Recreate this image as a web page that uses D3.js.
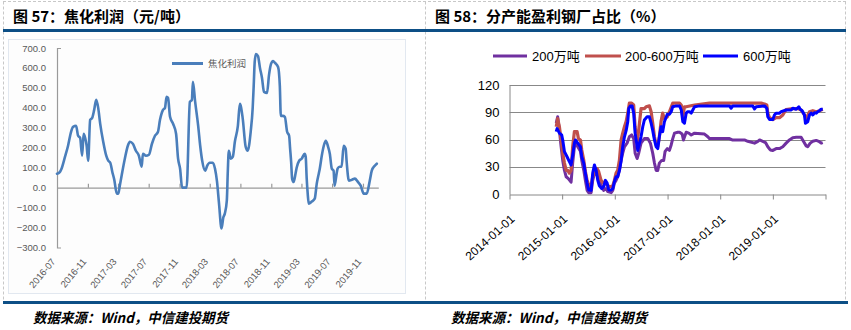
<!DOCTYPE html>
<html>
<head>
<meta charset="utf-8">
<script src="https://cdn.jsdelivr.net/npm/d3@7/dist/d3.min.js"></script>
<style>
  html, body { margin: 0; padding: 0; background: #fff; }
  svg { display: block; }
</style>
</head>
<body>
<svg id="chart" width="851" height="330"></svg>
<script>
// ---------------- DATA ----------------
const titleLeft = "图 57：焦化利润（元/吨）";
const titleRight = "图 58：分产能盈利钢厂占比（%）";
const sourceText = "数据来源：Wind，中信建投期货";

// Left chart: coking profit (yuan/ton)
const cokeSeriesName = "焦化利润";
const leftYTicks = [-300, -200, -100, 0, 100, 200, 300, 400, 500, 600, 700];
const leftXTickLabels = ["2016-07", "2016-11", "2017-03", "2017-07", "2017-11", "2018-03",
  "2018-07", "2018-11", "2019-03", "2019-07", "2019-11"];
const cokeProfit = [
  ["2016-07-01",70],["2016-07-12",78],["2016-07-19",95],["2016-08-02",155],["2016-08-14",210],
  ["2016-08-26",280],["2016-09-03",305],["2016-09-15",310],["2016-09-23",260],["2016-10-01",250],
  ["2016-10-09",160],["2016-10-15",270],["2016-10-21",250],["2016-10-27",210],["2016-11-02",135],
  ["2016-11-10",340],["2016-11-18",350],["2016-11-26",390],["2016-12-04",440],["2016-12-12",400],
  ["2016-12-20",320],["2017-01-01",230],["2017-01-13",160],["2017-01-21",135],["2017-01-29",125],
  ["2017-02-06",80],["2017-02-14",40],["2017-02-24",-30],["2017-03-02",-30],["2017-03-08",10],
  ["2017-03-28",145],["2017-04-09",210],["2017-04-17",230],["2017-04-29",220],["2017-05-11",185],
  ["2017-05-23",160],["2017-06-03",105],["2017-06-08",170],["2017-06-20",160],["2017-07-02",165],
  ["2017-07-14",220],["2017-07-26",260],["2017-08-07",280],["2017-08-15",340],["2017-08-27",390],
  ["2017-09-04",400],["2017-09-10",455],["2017-09-16",450],["2017-09-24",355],["2017-10-06",320],
  ["2017-10-18",270],["2017-10-26",145],["2017-11-03",95],["2017-11-11",0],["2017-11-19",0],
  ["2017-11-29",0],["2017-12-12",430],["2017-12-20",440],["2017-12-24",530],["2018-01-02",430],
  ["2018-01-14",310],["2018-01-22",210],["2018-01-30",135],["2018-02-11",85],["2018-02-19",110],
  ["2018-03-01",125],["2018-03-13",125],["2018-03-22",95],["2018-03-30",30],["2018-04-07",-80],
  ["2018-04-17",-205],["2018-04-24",-150],["2018-04-30",-130],["2018-05-08",-65],["2018-05-12",85],
  ["2018-05-16",185],["2018-05-24",145],["2018-06-01",155],["2018-06-09",230],["2018-06-21",310],
  ["2018-06-29",420],["2018-07-10",350],["2018-07-22",205],["2018-07-30",185],["2018-08-11",280],
  ["2018-08-19",400],["2018-08-23",510],["2018-08-27",630],["2018-09-01",670],["2018-09-09",660],
  ["2018-09-17",600],["2018-09-25",550],["2018-10-03",480],["2018-10-15",475],["2018-10-23",565],
  ["2018-10-31",620],["2018-11-08",635],["2018-11-16",625],["2018-11-28",605],["2018-12-05",510],
  ["2018-12-09",360],["2018-12-17",360],["2018-12-25",355],["2019-01-03",280],["2019-01-11",260],
  ["2019-01-15",195],["2019-01-19",130],["2019-01-23",45],["2019-01-29",28],["2019-02-04",60],
  ["2019-02-10",100],["2019-02-20",135],["2019-03-02",145],["2019-03-14",170],["2019-03-18",155],
  ["2019-03-22",45],["2019-03-26",-30],["2019-03-30",-80],["2019-04-11",-70],["2019-04-23",-55],
  ["2019-05-01",20],["2019-05-09",70],["2019-05-13",95],["2019-05-21",160],["2019-05-29",210],
  ["2019-06-06",235],["2019-06-14",210],["2019-06-22",170],["2019-06-30",95],["2019-07-07",85],
  ["2019-07-11",10],["2019-07-19",70],["2019-07-23",95],["2019-07-31",105],["2019-08-08",105],
  ["2019-08-16",210],["2019-08-24",195],["2019-08-28",130],["2019-09-06",35],["2019-09-18",40],
  ["2019-09-30",45],["2019-10-11",30],["2019-10-23",10],["2019-11-04",-30],["2019-11-16",-30],
  ["2019-11-28",35],["2019-12-06",85],["2019-12-18",110],["2019-12-26",120]
];

// Right chart: share of profitable steel mills by capacity (%)
const seriesNames = ["200万吨", "200-600万吨", "600万吨"];
const rightYTicks = [0, 30, 60, 90, 120];
const rightXTickLabels = ["2014-01-01", "2015-01-01", "2016-01-01", "2017-01-01", "2018-01-01", "2019-01-01"];
const cap200 = [
  ["2014-11-21",78],["2014-12-01",85],["2014-12-13",70],["2014-12-25",52],["2015-01-05",37],
  ["2015-01-17",26],["2015-01-29",19],["2015-02-13",17],["2015-03-04",13],["2015-03-15",34],
  ["2015-03-27",52],["2015-04-08",56],["2015-04-19",52],["2015-05-08",47],["2015-05-17",37],
  ["2015-05-31",26],["2015-06-11",15],["2015-06-23",4],["2015-07-04",1.5],["2015-07-21",1.5],
  ["2015-08-01",15],["2015-08-13",23],["2015-08-31",21],["2015-09-11",15],["2015-09-28",10],
  ["2015-10-16",4],["2015-11-02",6],["2015-11-13",2.6],["2015-12-07",1.5],["2015-12-18",4],
  ["2015-12-29",12],["2016-01-10",15],["2016-01-21",19],["2016-02-02",26],["2016-02-14",37],
  ["2016-02-25",45],["2016-03-08",52],["2016-03-26",56],["2016-04-11",63],["2016-04-27",65],
  ["2016-05-11",61],["2016-05-21",45],["2016-06-04",39],["2016-06-15",45],["2016-07-01",56],
  ["2016-07-24",61],["2016-08-17",61],["2016-09-04",56],["2016-09-20",45],["2016-10-02",34],
  ["2016-10-14",26],["2016-10-25",26],["2016-11-05",34],["2016-11-21",37],["2016-12-05",37],
  ["2016-12-15",47],["2016-12-30",50],["2017-01-14",48],["2017-01-26",54],["2017-02-06",61],
  ["2017-02-18",67],["2017-03-13",68],["2017-03-25",68],["2017-04-12",66],["2017-04-21",59.5],
  ["2017-05-10",68],["2017-05-28",67],["2017-06-14",65],["2017-07-07",67],["2017-09-14",66],
  ["2017-10-07",63],["2017-10-19",61],["2018-03-06",61],["2018-03-25",59.5],["2018-06-18",59.5],
  ["2018-07-11",58],["2018-08-27",56],["2018-09-19",58],["2018-10-01",59.5],["2018-10-23",58],
  ["2018-11-11",56.6],["2018-11-27",52],["2018-12-14",48.5],["2019-01-01",48],["2019-01-24",50],
  ["2019-02-16",50],["2019-03-11",52],["2019-04-03",56],["2019-04-26",59.5],["2019-05-19",62],
  ["2019-06-12",62.4],["2019-07-16",62.4],["2019-08-01",58],["2019-08-20",53],["2019-08-31",52],
  ["2019-09-17",56],["2019-10-05",58],["2019-10-29",59],["2019-11-15",58],["2019-12-02",56],
  ["2019-12-13",56.6]
];
const cap200to600 = [
  ["2014-11-21",74],["2014-12-01",83],["2014-12-13",74],["2014-12-25",59.5],["2015-01-05",45],
  ["2015-01-17",34],["2015-01-29",26],["2015-02-09",26],["2015-02-20",23],["2015-03-04",26],
  ["2015-03-15",52],["2015-03-27",68.6],["2015-04-15",68.6],["2015-04-24",61],["2015-05-08",59.5],
  ["2015-05-17",48.5],["2015-05-31",37],["2015-06-11",25],["2015-06-23",15],["2015-07-09",8],
  ["2015-07-21",9],["2015-08-01",19],["2015-08-13",26],["2015-08-31",28],["2015-09-11",25],
  ["2015-09-28",15],["2015-10-16",12],["2015-11-02",11],["2015-11-13",9],["2015-12-02",8],
  ["2015-12-18",9],["2015-12-29",15],["2016-01-10",23],["2016-01-21",26],["2016-02-02",37],
  ["2016-02-14",59.5],["2016-02-25",67],["2016-03-08",74],["2016-03-20",80],["2016-03-31",89],
  ["2016-04-11",100],["2016-04-27",100],["2016-05-11",98],["2016-05-21",74],["2016-06-04",56],
  ["2016-06-15",70.5],["2016-07-01",94],["2016-07-24",94],["2016-08-05",96],["2016-08-28",97],
  ["2016-09-09",90.6],["2016-09-20",78],["2016-10-02",63],["2016-10-14",54],["2016-10-25",52],
  ["2016-11-05",63],["2016-11-17",80],["2016-11-28",89],["2016-12-10",83],["2016-12-30",85],
  ["2017-01-14",90.6],["2017-02-06",100],["2017-03-02",100],["2017-03-25",100],["2017-04-06",98],
  ["2017-04-17",85],["2017-04-28",96],["2017-05-10",96],["2017-07-07",98],["2017-10-19",100],
  ["2018-06-30",100],["2018-10-12",100],["2018-11-04",99],["2018-11-20",98],["2018-11-27",89],
  ["2018-12-09",84],["2019-01-01",82],["2019-01-24",84],["2019-02-16",84],["2019-03-11",87],
  ["2019-04-03",93],["2019-05-19",94],["2019-06-23",94],["2019-07-16",92.5],["2019-08-08",87],
  ["2019-08-20",83],["2019-09-12",90.6],["2019-10-05",91.7],["2019-10-29",90.6],["2019-11-20",91.7],
  ["2019-12-13",93.3]
];
const cap600 = [
  ["2014-11-21",68.6],["2014-11-27",72],["2014-12-13",67],["2014-12-29",65],["2015-01-05",59.5],
  ["2015-01-17",46.6],["2015-02-04",41],["2015-02-20",35.6],["2015-03-04",32],["2015-03-15",43],
  ["2015-03-27",56],["2015-04-03",59.5],["2015-04-19",56],["2015-05-08",52],["2015-05-17",41],
  ["2015-05-31",34],["2015-06-11",23],["2015-06-23",12],["2015-07-04",4.4],["2015-07-21",4],
  ["2015-08-01",23],["2015-08-13",32],["2015-08-25",26],["2015-09-05",15],["2015-09-16",9],
  ["2015-10-02",6],["2015-10-16",8],["2015-10-28",15],["2015-11-09",12],["2015-11-20",4.4],
  ["2015-12-07",4.4],["2015-12-18",6],["2015-12-29",13.5],["2016-01-10",19],["2016-01-21",19],
  ["2016-02-02",26],["2016-02-14",37],["2016-02-25",52],["2016-03-08",63],["2016-03-20",70],
  ["2016-03-31",79.6],["2016-04-07",94],["2016-04-18",97],["2016-04-30",97],["2016-05-11",89],
  ["2016-05-21",67],["2016-06-08",48],["2016-06-20",56],["2016-07-01",63],["2016-07-13",74],
  ["2016-07-24",81.5],["2016-08-12",85],["2016-08-28",85],["2016-09-09",78],["2016-09-20",70],
  ["2016-10-02",59.5],["2016-10-14",52],["2016-10-25",50],["2016-11-05",63],["2016-11-17",74],
  ["2016-11-28",68.6],["2016-12-10",79.6],["2016-12-30",87.8],["2017-01-14",87.8],["2017-01-26",90.6],
  ["2017-02-06",96],["2017-03-02",97],["2017-03-25",97],["2017-04-06",92.5],["2017-04-17",79.6],
  ["2017-04-28",77.9],["2017-05-10",89],["2017-05-21",90.6],["2017-06-02",90.6],["2017-06-14",89],
  ["2017-06-25",92.5],["2017-07-07",96],["2017-08-10",97],["2017-10-19",97],["2018-03-06",97],
  ["2018-03-18",94.4],["2018-03-29",97],["2018-08-15",97],["2018-08-27",93.6],["2018-09-07",96],
  ["2018-11-04",97],["2018-11-20",94.4],["2018-11-27",85],["2018-12-09",82],["2019-01-01",82],
  ["2019-01-12",87],["2019-01-24",89],["2019-02-16",89],["2019-02-28",90.6],["2019-04-03",92.5],
  ["2019-05-08",92.5],["2019-05-19",94.4],["2019-06-12",93.3],["2019-06-30",96],["2019-07-09",93.3],
  ["2019-07-23",91.7],["2019-08-08",87],["2019-08-15",77.9],["2019-08-31",79.6],["2019-09-12",87],
  ["2019-09-24",89],["2019-10-05",87],["2019-10-17",89.5],["2019-10-29",89],["2019-11-08",90.6],
  ["2019-11-20",91.7],["2019-12-02",93.3],["2019-12-13",93.3]
];

// ---------------- DRAW ----------------
const svg = d3.select("#chart");
const parseDay = d3.timeParse("%Y-%m-%d");
const parseMonth = d3.timeParse("%Y-%m");
const CJK = "'Noto Sans CJK SC', 'Liberation Sans', sans-serif";
const RULE = "#0d4f86";

// Panel frames (dashed)
const dash = { stroke: "#c8c8c8", "stroke-width": 1, "stroke-dasharray": "3,2" };
function dline(x1, y1, x2, y2) {
  const l = svg.append("line").attr("x1", x1).attr("y1", y1).attr("x2", x2).attr("y2", y2);
  Object.entries(dash).forEach(([k, v]) => l.attr(k, v));
}
dline(3, 1.5, 846, 1.5);
dline(3.5, 1.5, 3.5, 301);
dline(425.5, 1.5, 425.5, 301);
dline(845.5, 1.5, 845.5, 301);

// Titles
svg.append("text").attr("x", 13).attr("y", 21.5).text(titleLeft)
  .attr("font-family", CJK).attr("font-weight", 700).attr("font-size", 15).attr("fill", "#000");
svg.append("text").attr("x", 435).attr("y", 21.5).text(titleRight)
  .attr("font-family", CJK).attr("font-weight", 700).attr("font-size", 15).attr("fill", "#000");

// Blue rules
svg.append("rect").attr("x", 3).attr("y", 29).attr("width", 843).attr("height", 3).attr("fill", RULE);
svg.append("rect").attr("x", 3).attr("y", 301).attr("width", 845).attr("height", 3).attr("fill", RULE);

// Footer sources
[[33, 195], [451, 196]].forEach(([x, w]) => {
  svg.append("text").attr("x", x).attr("y", 323).text(sourceText)
    .attr("font-family", CJK).attr("font-style", "italic").attr("font-weight", 700)
    .attr("font-size", 14).attr("fill", "#000")
    .attr("textLength", w).attr("lengthAdjust", "spacingAndGlyphs");
});

// ---------- Left chart ----------
svg.append("rect").attr("x", 8.5).attr("y", 39.5).attr("width", 397).attr("height", 254)
  .attr("fill", "#fdfdfd").attr("stroke", "#e2e8f0").attr("stroke-width", 1);

const xL = d3.scaleTime().domain([parseDay("2016-07-01"), parseDay("2020-01-01")]).range([57, 378.3]);
const yL = d3.scaleLinear().domain([-300, 700]).range([247.5, 48]);
const grayTxt = "#595959";

const yAxisL = svg.append("g").attr("transform", "translate(57,0)")
  .call(d3.axisLeft(yL).tickValues(leftYTicks).tickSizeInner(0).tickSizeOuter(-4).tickPadding(11)
    .tickFormat(d3.format(".1f")));
yAxisL.select(".domain").attr("stroke", "#9a9a9a").attr("stroke-width", 1.2);
yAxisL.selectAll("text").attr("font-family", "'Liberation Sans', Arial, sans-serif")
  .attr("font-size", 9.5).attr("fill", grayTxt);

const xTicksL = leftXTickLabels.map(parseMonth);
const xAxisL = svg.append("g").attr("transform", `translate(0,${yL(0)})`)
  .call(d3.axisBottom(xL).tickValues(xTicksL.slice(1)).tickSizeInner(-4).tickSizeOuter(0).tickFormat(""));
xAxisL.select(".domain").attr("stroke", "#9a9a9a").attr("stroke-width", 1.2);
xAxisL.selectAll(".tick line").attr("stroke", "#9a9a9a").attr("stroke-width", 1.2);

svg.append("g").selectAll("text").data(xTicksL).join("text")
  .attr("transform", d => `translate(${xL(d) - 1},262) rotate(-50)`)
  .attr("text-anchor", "end")
  .attr("font-family", "'Liberation Sans', Arial, sans-serif").attr("font-size", 9.5).attr("fill", grayTxt)
  .text((d, i) => leftXTickLabels[i]);

const lineL = d3.line().x(d => xL(parseDay(d[0]))).y(d => yL(d[1])).curve(d3.curveMonotoneX);
svg.append("path").datum(cokeProfit).attr("d", lineL)
  .attr("fill", "none").attr("stroke", "#4a7ebb").attr("stroke-width", 2.6)
  .attr("stroke-linejoin", "round").attr("stroke-linecap", "round");

// legend left
svg.append("line").attr("x1", 172).attr("x2", 203).attr("y1", 63.5).attr("y2", 63.5)
  .attr("stroke", "#4a7ebb").attr("stroke-width", 3);
svg.append("text").attr("x", 208).attr("y", 67).text(cokeSeriesName)
  .attr("font-family", CJK).attr("font-size", 9.5).attr("fill", grayTxt);

// ---------- Right chart ----------
const xR = d3.scaleTime().domain([parseDay("2014-01-01"), parseDay("2020-01-01")]).range([509.5, 825.5]);
const yR = d3.scaleLinear().domain([0, 120]).range([194, 85]);
const gridCol = "#888888";

svg.append("g").selectAll("line").data(rightYTicks.filter(v => v > 0)).join("line")
  .attr("x1", 509.5).attr("x2", 825.5)
  .attr("y1", d => Math.round(yR(d)) + 0.5).attr("y2", d => Math.round(yR(d)) + 0.5)
  .attr("stroke", gridCol).attr("stroke-width", 1);

const yAxisR = svg.append("g").attr("transform", "translate(509.5,0)")
  .call(d3.axisLeft(yR).tickValues(rightYTicks).tickSize(0).tickPadding(10));
yAxisR.select(".domain").attr("stroke", gridCol);
yAxisR.selectAll("text").attr("font-family", "'Liberation Sans', Arial, sans-serif")
  .attr("font-size", 13).attr("fill", "#000");

const yearTicks = rightXTickLabels.map(parseDay).concat([parseDay("2020-01-01")]);
const xAxisR = svg.append("g").attr("transform", `translate(0,${Math.round(yR(0)) + 0.5})`)
  .call(d3.axisBottom(xR).tickValues(yearTicks).tickSizeInner(5).tickSizeOuter(0).tickFormat(""));
xAxisR.select(".domain").attr("stroke", gridCol);
xAxisR.selectAll(".tick line").attr("stroke", gridCol);

svg.append("g").selectAll("text").data(rightXTickLabels).join("text")
  .attr("transform", d => `translate(${xR(parseDay(d)) + 6},220) rotate(-42)`)
  .attr("text-anchor", "end")
  .attr("font-family", "'Liberation Sans', Arial, sans-serif").attr("font-size", 12).attr("fill", "#000")
  .text(d => d);

const lineR = d3.line().x(d => xR(parseDay(d[0]))).y(d => yR(d[1])).curve(d3.curveLinear);
const rightSeries = [
  { data: cap200, color: "#7030a0", w: 3 },
  { data: cap200to600, color: "#c0504d", w: 3.2 },
  { data: cap600, color: "#0000ff", w: 3 }
];
rightSeries.forEach(s => {
  svg.append("path").datum(s.data).attr("d", lineR)
    .attr("fill", "none").attr("stroke", s.color).attr("stroke-width", s.w)
    .attr("stroke-linejoin", "round");
});

// legend right
const legX = [[493, 527, 532], [585, 621, 625], [703, 738, 743]];
seriesNames.forEach((n, i) => {
  const [a, b, t] = legX[i];
  svg.append("line").attr("x1", a).attr("x2", b).attr("y1", 56).attr("y2", 56)
    .attr("stroke", rightSeries[i].color).attr("stroke-width", 3);
  svg.append("text").attr("x", t).attr("y", 61).text(n)
    .attr("font-family", "'Liberation Sans', 'Noto Sans CJK SC', sans-serif")
    .attr("font-size", 13).attr("fill", "#000");
});
</script>
</body>
</html>
